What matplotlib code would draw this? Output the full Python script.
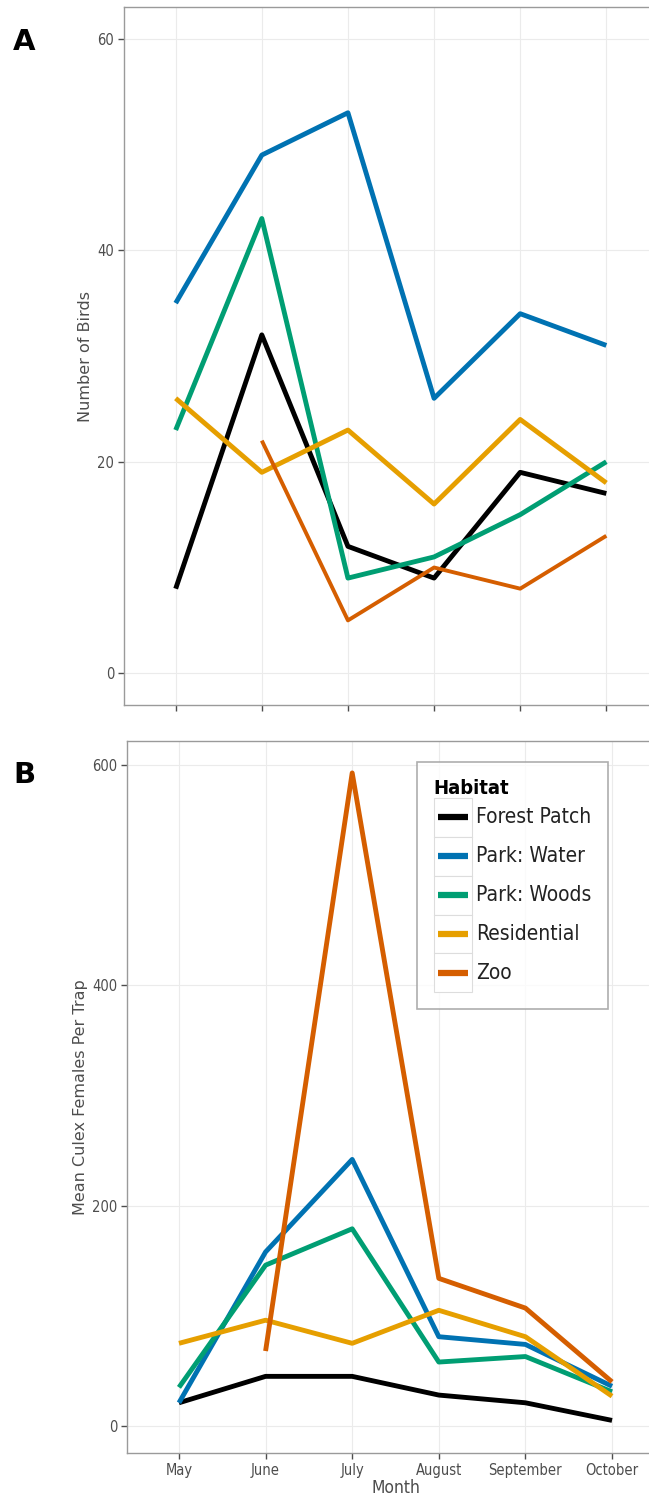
import numpy as np
import matplotlib
matplotlib.use("Agg")
import matplotlib.pyplot as plt
from matplotlib.legend_handler import HandlerLine2D
from matplotlib.patches import Rectangle
from matplotlib.lines import Line2D

months = ["May", "June", "July", "August", "September", "October"]
habitats = ["Forest Patch", "Park: Water", "Park: Woods", "Residential", "Zoo"]
colors = ["#000000", "#0072B2", "#009E73", "#E69F00", "#D55E00"]

# Panel A: Number of Birds
birds_forest = [8, 32, 12, 9, 19, 17]
birds_water = [35, 49, 53, 26, 34, 31]
birds_woods = [23, 43, 9, 11, 15, 20]
birds_resid = [26, 19, 23, 16, 24, 18]
birds_zoo = [np.nan, 22, 5, 10, 8, 13]

# Panel B: Mean Culex Females Per Trap
culex_forest = [21, 45, 45, 28, 21, 5]
culex_water = [21, 158, 242, 81, 74, 36]
culex_woods = [35, 146, 179, 58, 63, 31]
culex_resid = [75, 96, 75, 105, 81, 27]
culex_zoo = [np.nan, 68, 593, 134, 107, 40]

birds = [birds_forest, birds_water, birds_woods, birds_resid, birds_zoo]
culex = [culex_forest, culex_water, culex_woods, culex_resid, culex_zoo]

plt.rcParams['font.family'] = ['DejaVu Sans']
plt.rcParams['font.stretch'] = 'condensed'


class BoxedLineHandler(HandlerLine2D):
    def create_artists(self, legend, orig_handle, xdescent, ydescent, width, height, fontsize, trans):
        rect = Rectangle((-xdescent, -ydescent), width, height, facecolor='white',
                         edgecolor='#dddddd', linewidth=0.8, transform=trans)
        y = -ydescent + height / 2.0
        pad = width * 0.12
        ln = Line2D([-xdescent + pad, -xdescent + width - pad], [y, y], color=orig_handle.get_color(),
                    linewidth=4.5, solid_capstyle='butt', transform=trans)
        return [rect, ln]


fig = plt.figure(figsize=(6.49, 15.02), dpi=100)
W, H = 649.0, 1502.0

def make_ax(left, right, top, bottom):
    return fig.add_axes([left / W, 1 - bottom / H, (right - left) / W, (bottom - top) / H])

axA = make_ax(124, 658, 7, 705)
axB = make_ax(127, 664, 741, 1453)

x = np.arange(1, len(months) + 1)
grid_c = "#ebebeb"
border_c = "#9a9a9a"
tick_c = "#4d4d4d"

for ax in (axA, axB):
    ax.set_xlim(0.4, 6.6)
    ax.set_xticks(x)
    ax.grid(True, color=grid_c, linewidth=0.8)
    ax.set_axisbelow(True)
    for s in ax.spines.values():
        s.set_color(border_c)
        s.set_linewidth(1.0)
    ax.tick_params(axis='both', direction='out', length=4, width=1, color=tick_c,
                   labelsize=10.5, labelcolor="#4d4d4d", pad=3)

for vals, c, lab in zip(birds, colors, habitats):
    lw = 2.8 if lab == "Zoo" else 3.5
    axA.plot(x, vals, color=c, lw=lw, solid_capstyle='butt', solid_joinstyle='round', label=lab)
axA.set_ylim(-3, 63)
axA.set_yticks([0, 20, 40, 60])
axA.set_xticklabels([])
axA.set_ylabel("Number of Birds", fontsize=11.5, color="#4d4d4d", fontstretch='normal', labelpad=3)

for vals, c, lab in zip(culex, colors, habitats):
    axB.plot(x, vals, color=c, lw=3.5, solid_capstyle='butt', solid_joinstyle='round', label=lab)
axB.set_ylim(-24.6, 622)
axB.set_yticks([0, 200, 400, 600])
axB.set_xticklabels(months)
axB.set_ylabel("Mean Culex Females Per Trap", fontsize=11.5, color="#4d4d4d", fontstretch='normal', labelpad=3)
axB.set_xlabel("Month", fontsize=12.5, color="#4d4d4d", labelpad=1)

leg = axB.legend(loc='upper left', bbox_to_anchor=(417 / W, 1 - 762 / H), bbox_transform=fig.transFigure,
                 title="Habitat", fontsize=15, title_fontsize=14.5, frameon=True, fancybox=False,
                 handlelength=1.85, handleheight=2.5, handletextpad=0.2, labelspacing=0.0,
                 borderpad=0.8, borderaxespad=0,
                 handler_map={Line2D: BoxedLineHandler()})
leg.get_title().set_fontweight('bold')
leg._legend_box.align = "left"
leg.get_frame().set_edgecolor("#9a9a9a")
leg.get_frame().set_linewidth(1.2)
for t in leg.get_texts():
    t.set_color("#222222")

fig.text(24 / W, 1 - 42 / H, "A", fontsize=21, fontweight='bold', ha='center', va='center',
         fontstretch='normal')
fig.text(24 / W, 1 - 775 / H, "B", fontsize=21, fontweight='bold', ha='center', va='center',
         fontstretch='normal')

fig.savefig("out.png", dpi=100)
